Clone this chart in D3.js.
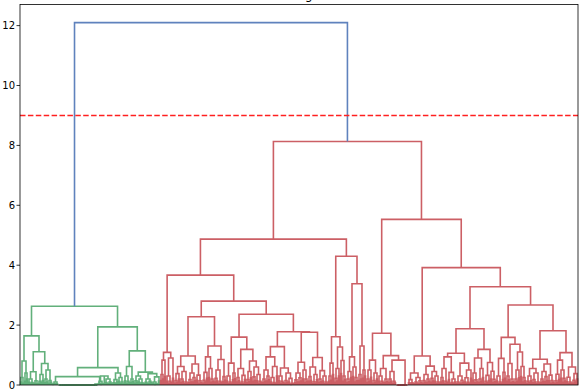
<!DOCTYPE html>
<html lang="en">
<head>
  <meta charset="UTF-8">
  <title>Dendrogram</title>
  <script src="https://d3js.org/d3.v7.min.js"></script>
  <style>
    body { margin: 0; background: #fff; }
    text { font-family: "DejaVu Sans", sans-serif; }
  </style>
</head>
<body>
<div id="chart"></div>
<script>
// merge heights.
// a node is [height, left, right]; a bare number is two points joined at that height
var rootHeight = 12.1;
var threshold = 9;
var yTicks = [0, 2, 4, 6, 8, 10, 12];

// green cluster
var greenLeft = [1.64,
  [0.80, [0.25, 0.10, 0.06], [0.40, 0.12, 0.20]],
  [1.11,
    [0.44, [0.20, 0.09, [0.08, 0.03, 0.05]], [0.14, 0.06, 0.04]],
    [0.72, [0.35, [0.12, 0.05, 0.08], 0.15], [0.50, [0.20, 0.07, 0.10], [0.15, 0.05, 0.09]]]]];
var greenSmall = [0.10, [0.05, 0.02, 0.03], 0.04];
var greenFlatMerges = [0, 0, 0, 0, 0, 0, 0, 0, 0, 0, 0, 0, 0, 0, 0, 0, 0, 0, 0];
var greenTail = [0.30, [0.12, 0.05, [0.05, 0.02, 0.03]], [0.20, [0.08, 0.03, 0.04], [0.10, 0.04, 0.06]]];
var greenMidRight = [0.40, [0.18, [0.07, 0.03, 0.04], 0.10], [0.25, 0.12, [0.10, 0.05, 0.03]]];
var greenRightA = [0.62, [0.30, 0.14, [0.12, 0.05, 0.07]], [0.20, 0.08, 0.11]];
var greenRightB = [0.43,
  [0.30, [0.14, 0.06, 0.09], [0.20, 0.10, [0.07, 0.03, 0.04]]],
  [0.38, [0.20, [0.09, 0.04, 0.05], [0.12, 0.05, 0.07]], [0.27, [0.10, 0.06, [0.05, 0.02, 0.03]], 0.13]]];

// red cluster, left to right
var redA = [1.09, [0.83, [0.35, 0.15, 0.20], 0.28], [0.90, [0.30, 0.12, [0.12, 0.05, 0.07]], 0.22]];
var redB = [0.97,
  [0.62, [0.38, [0.15, 0.06, 0.09], 0.20], [0.45, [0.20, 0.08, 0.12], [0.10, 0.04, 0.06]]],
  [0.70, [0.40, [0.18, 0.07, 0.10], [0.25, 0.10, 0.14]], [0.33, 0.16, [0.14, 0.05, 0.08]]]];
var redC = [1.30,
  [0.94, [0.42, [0.16, 0.06, 0.10], 0.22], [0.55, 0.25, [0.20, 0.09, 0.12]]],
  [0.85, [0.50, [0.22, 0.10, 0.13], [0.12, 0.05, 0.07]], [0.28, 0.11, 0.16]]];
var redD = [1.60,
  [0.73, [0.30, 0.13, [0.10, 0.04, 0.06]], [0.40, 0.17, 0.21]],
  [1.19, [0.55, [0.25, 0.10, 0.14], [0.32, [0.10, 0.05, 0.04], 0.18]],
    [0.80, [0.45, [0.18, 0.07, 0.11], 0.24], [0.60, [0.27, 0.12, 0.15], [0.35, 0.14, [0.12, 0.05, 0.08]]]]]];
var redE = [1.28,
  [0.94, [0.50, [0.20, 0.08, 0.12], [0.30, 0.13, 0.17]], [0.62, [0.25, 0.10, [0.08, 0.03, 0.05]], 0.30]],
  [0.57, [0.30, 0.14, [0.12, 0.05, 0.07]], [0.40, [0.15, 0.06, 0.09], [0.22, 0.10, [0.06, 0.02, 0.04]]]]];
var redF = [0.76, [0.40, [0.17, 0.07, 0.10], [0.24, 0.10, 0.13]], [0.50, 0.20, [0.20, 0.08, 0.12]]];
var redG = [0.92,
  [0.60, [0.28, 0.12, 0.15], [0.35, [0.11, 0.05, 0.06], 0.17]],
  [0.48, [0.20, 0.08, 0.11], [0.30, 0.13, [0.10, 0.04, 0.06]]]];
var redH = [1.61, [0.73, [0.30, 0.12, 0.16], 0.35], [1.27, [0.55, [0.22, 0.09, 0.13], 0.30], [0.82, 0.38, [0.30, 0.12, 0.18]]]];
var redI = [0.94, [0.45, [0.20, 0.08, 0.11], 0.25], [0.60, 0.28, [0.25, 0.10, 0.14]]];
var redJ = [1.30, [0.35, 0.15, 0.20], [0.50, 0.22, 0.30]];
var redK = [0.83, [0.50, [0.20, 0.08, 0.12], 0.26], [0.40, [0.15, 0.06, 0.09], 0.20]];
var redL = [0.55, [0.30, 0.12, [0.12, 0.05, 0.07]], [0.20, 0.08, 0.11]];
var redM = [0.45, [0.20, 0.08, 0.12], [0.12, 0.05, 0.07]];
var redFlatMerges = [0, 0, 0, 0, 0];
var redN = [0.97,
  [0.40, [0.18, 0.07, [0.07, 0.03, 0.04]], [0.25, [0.10, 0.04, 0.06], [0.14, 0.05, 0.08]]],
  [0.63, [0.35, [0.15, 0.06, 0.09], [0.20, 0.08, 0.12]], [0.45, [0.22, 0.09, 0.13], [0.30, 0.12, [0.10, 0.04, 0.06]]]]];
var redP = [1.06,
  [0.94, [0.55, [0.25, 0.10, 0.14], [0.12, 0.05, 0.07]], [0.42, 0.18, [0.20, [0.08, 0.03, 0.05], 0.10]]],
  [0.73, [0.30, [0.10, 0.04, 0.06], [0.16, 0.06, 0.09]], [0.50, [0.24, 0.10, [0.09, 0.04, 0.05]], 0.22]]];
var redQ = [1.19,
  [0.90, [0.40, 0.16, [0.17, 0.07, 0.10]], [0.55, [0.20, 0.08, 0.12], 0.25]],
  [0.75, [0.32, [0.12, 0.05, 0.07], 0.15], [0.46, 0.20, [0.19, 0.08, 0.11]]]];
var redR = [0.89, [0.30, 0.13, [0.10, 0.04, 0.06]], [0.42, 0.18, 0.22]];
var redS = [1.36, [0.72, [0.30, 0.12, 0.17], [0.20, 0.08, 0.11]], [1.10, [0.50, [0.20, 0.08, 0.12], 0.24], [0.62, 0.28, [0.25, 0.10, 0.14]]]];
var redT = [0.86,
  [0.55, [0.30, [0.12, 0.05, 0.07], 0.14], [0.40, [0.18, 0.07, 0.10], [0.10, 0.04, 0.06]]],
  [0.70, [0.45, [0.20, 0.08, 0.12], [0.28, 0.11, 0.15]], [0.33, 0.14, [0.15, 0.06, 0.09]]]];
var redU = [1.08,
  [0.83, [0.36, [0.14, 0.06, 0.08], 0.18], [0.50, 0.22, [0.22, 0.09, 0.13]]],
  [0.60, [0.26, 0.11, [0.10, 0.04, 0.06]], [0.38, [0.16, 0.06, 0.10], 0.20]]];

// identical pairs joined one after another
function chain(merges) {
  var node = 0;
  merges.forEach(function(h) { node = [h, node, 0]; });
  return node;
}

var greenTree = [2.63, greenLeft,
  [1.94,
    [0.58, [0.28, greenSmall, [0.03, chain(greenFlatMerges), greenTail]], greenMidRight],
    [1.14, greenRightA, greenRightB]]];

var redTree = [8.13,
  [4.87,
    [3.67, redA,
      [2.80, [2.28, redB, redC],
        [2.36, redD, [1.78, redE, [1.76, redF, redG]]]]],
    [4.30, redH, [3.38, redI, redJ]]],
  [5.53,
    [1.73, redK, [0.98, redL, [0.83, redM, chain(redFlatMerges)]]],
    [3.92, redN,
      [3.28, [1.88, redP, redQ],
        [2.67, [1.59, redR, redS], [1.81, redT, redU]]]]]];

// seaborn-style palette as it appears in the picture
var colors = { green: "#62b07b", red: "#cc5f65", blue: "#5f82bd" };

var links = [];
var leafCount = 0;
function join(a, b, h, color) {
  links.push({ pts: [[a.x, a.h], [a.x, h], [b.x, h], [b.x, b.h]], color: color });
  return { x: (a.x + b.x) / 2, h: h };
}
function leaf() { return { x: 10 * (leafCount++) + 5, h: 0 }; }
function layout(node, color) {
  if (typeof node === "number") {
    var p = leaf(), q = leaf();
    return join(p, q, node, color);
  }
  var a = layout(node[1], color), b = layout(node[2], color);
  return join(a, b, node[0], color);
}
var g1 = layout(greenTree, colors.green);
var r1 = layout(redTree, colors.red);
join(g1, r1, rootHeight, colors.blue);

var W = 582, H = 389;

var svg = d3.select("#chart").append("svg")
  .attr("width", W).attr("height", H);

var x = d3.scaleLinear().domain([0, 10 * leafCount]).range([20, 578]);
var y = d3.scaleLinear().domain([0, 12.705]).range([385, 4.5]);

var line = d3.line().x(function(d) { return x(d[0]); }).y(function(d) { return y(d[1]); });

svg.append("g").selectAll("path")
  .data(links)
  .enter().append("path")
  .attr("d", function(d) { return line(d.pts); })
  .attr("fill", "none")
  .attr("stroke", function(d) { return d.color; })
  .attr("stroke-width", 1.6);

// cut line
svg.append("line")
  .attr("x1", x(0)).attr("x2", x(10 * leafCount))
  .attr("y1", y(threshold)).attr("y2", y(threshold))
  .attr("stroke", "#ff2020")
  .attr("stroke-width", 1.5)
  .attr("stroke-dasharray", "5.5,2.4");

// frame
svg.append("rect")
  .attr("x", 20).attr("y", 4.5)
  .attr("width", 558).attr("height", y(0) - 4.5)
  .attr("fill", "none").attr("stroke", "#000").attr("stroke-width", 0.8);

var yAxis = svg.append("g").selectAll("g")
  .data(yTicks).enter().append("g")
  .attr("transform", function(d) { return "translate(0," + y(d) + ")"; });
yAxis.append("line").attr("x1", 16.5).attr("x2", 20).attr("stroke", "#000").attr("stroke-width", 0.8);
yAxis.append("text")
  .attr("x", 15).attr("dy", "0.36em")
  .attr("text-anchor", "end")
  .attr("font-size", 10)
  .text(function(d) { return d; });

svg.append("text")
  .attr("x", 299).attr("y", -1)
  .attr("text-anchor", "middle")
  .attr("font-size", 12)
  .text("Dendrogram");
</script>
</body>
</html>
